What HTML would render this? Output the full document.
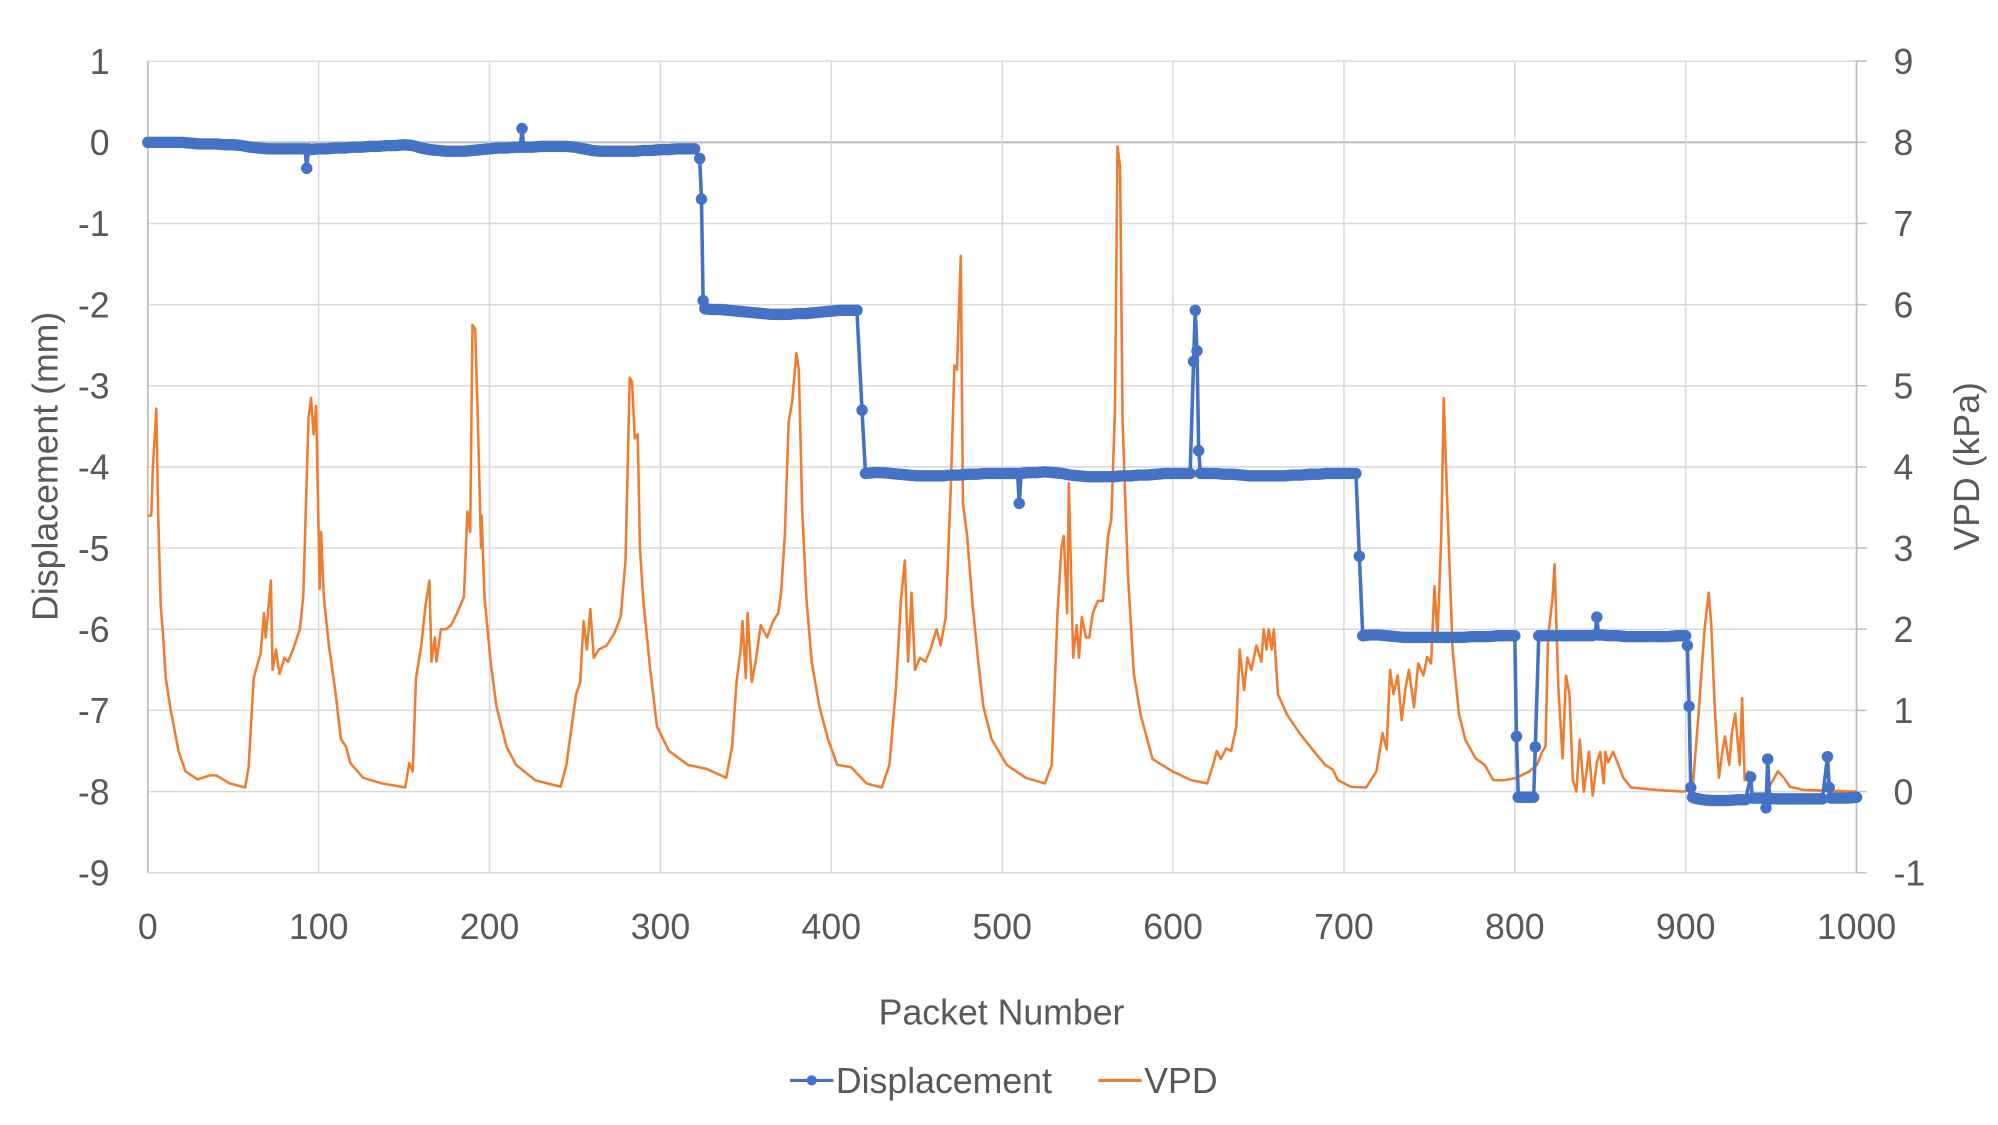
<!DOCTYPE html>
<html><head><meta charset="utf-8"><style>
html,body{margin:0;padding:0;background:#fff;}
svg{display:block;font-family:"Liberation Sans",sans-serif;}
</style></head><body>
<svg id="chart" width="1998" height="1125" viewBox="0 0 1568 883" preserveAspectRatio="none" xmlns="http://www.w3.org/2000/svg">
<g id="grid"></g>
<g id="axes"></g>
<g id="vpd"></g>
<g id="disp"></g>
<text x="786" y="804" font-size="28" fill="#595959" text-anchor="middle">Packet Number</text>
<text transform="translate(45,366) rotate(-90)" font-size="28" fill="#595959" text-anchor="middle">Displacement (mm)</text>
<text transform="translate(1553,366) rotate(-90)" font-size="28" fill="#595959" text-anchor="middle">VPD (kPa)</text>
<g>
  <g>
    <line x1="620" y1="848" x2="654" y2="848" stroke="#4472c4" stroke-width="2.5"/>
    <circle cx="637" cy="848" r="4" fill="#4472c4"/>
    <text x="656" y="858" font-size="28" fill="#595959">Displacement</text>
  </g>
  <g>
    <line x1="862" y1="848" x2="896" y2="848" stroke="#ed7d31" stroke-width="2.5"/>
    <text x="898" y="858" font-size="28" fill="#595959">VPD</text>
  </g>
</g>
</svg>
<script>
const xTicks=[0,100,200,300,400,500,600,700,800,900,1000];
const leftTicks=[1,0,-1,-2,-3,-4,-5,-6,-7,-8,-9];
const rightTicks=[9,8,7,6,5,4,3,2,1,0,-1];
const dispPackets=[0,5,10,15,20,25,30,35,40,45,50,55,60,65,70,75,80,85,90,92,93,94,95,100,105,110,115,120,125,130,135,140,145,150,155,160,165,170,175,180,185,190,195,200,205,210,215,218,219,220,225,230,235,240,245,250,255,260,265,270,275,280,285,290,295,300,305,310,315,320,323,324,325,326,330,335,340,345,350,355,360,365,370,375,380,385,390,395,400,405,410,415,418,420,425,430,435,440,445,450,455,460,465,470,475,480,485,490,495,500,505,509,510,511,515,520,525,530,535,540,545,550,555,560,565,570,575,580,585,590,595,600,605,610,612,613,614,615,616,620,625,630,635,640,645,650,655,660,665,670,675,680,685,690,695,700,705,707,709,711,715,720,725,730,735,740,745,750,755,760,765,770,775,780,785,790,795,800,801,802,805,808,811,812,814,815,820,825,830,835,840,845,847,848,849,850,855,860,865,870,875,880,885,890,895,900,901,902,903,904,905,910,915,920,925,930,935,938,939,940,945,947,948,949,950,955,960,965,970,975,980,983,984,985,990,995,1000];
const dispValues=[0,0,0,0,0,-0.01,-0.02,-0.02,-0.02,-0.03,-0.03,-0.04,-0.06,-0.07,-0.08,-0.08,-0.08,-0.08,-0.08,-0.08,-0.32,-0.08,-0.09,-0.08,-0.08,-0.07,-0.07,-0.06,-0.06,-0.05,-0.05,-0.04,-0.04,-0.03,-0.04,-0.07,-0.09,-0.1,-0.11,-0.11,-0.11,-0.1,-0.09,-0.08,-0.07,-0.07,-0.06,-0.06,0.17,-0.06,-0.06,-0.05,-0.05,-0.05,-0.05,-0.06,-0.08,-0.1,-0.11,-0.11,-0.11,-0.11,-0.11,-0.1,-0.1,-0.09,-0.09,-0.08,-0.08,-0.08,-0.2,-0.7,-1.95,-2.05,-2.06,-2.06,-2.07,-2.08,-2.09,-2.1,-2.11,-2.12,-2.12,-2.12,-2.11,-2.11,-2.1,-2.09,-2.08,-2.07,-2.07,-2.07,-3.3,-4.08,-4.07,-4.07,-4.08,-4.09,-4.1,-4.11,-4.11,-4.11,-4.11,-4.1,-4.1,-4.09,-4.09,-4.08,-4.08,-4.08,-4.08,-4.08,-4.45,-4.08,-4.07,-4.07,-4.06,-4.07,-4.08,-4.1,-4.11,-4.12,-4.12,-4.12,-4.12,-4.11,-4.11,-4.1,-4.1,-4.09,-4.08,-4.08,-4.08,-4.08,-2.7,-2.07,-2.57,-3.8,-4.08,-4.08,-4.08,-4.09,-4.09,-4.1,-4.11,-4.11,-4.11,-4.11,-4.11,-4.1,-4.1,-4.09,-4.09,-4.08,-4.08,-4.08,-4.08,-4.08,-5.1,-6.08,-6.07,-6.07,-6.08,-6.09,-6.1,-6.1,-6.1,-6.1,-6.1,-6.1,-6.1,-6.1,-6.09,-6.09,-6.09,-6.08,-6.08,-6.08,-7.32,-8.07,-8.07,-8.07,-8.07,-7.45,-6.08,-6.08,-6.08,-6.08,-6.08,-6.08,-6.08,-6.08,-6.07,-5.85,-6.07,-6.07,-6.08,-6.08,-6.09,-6.09,-6.09,-6.09,-6.09,-6.09,-6.08,-6.08,-6.2,-6.95,-7.95,-8.07,-8.08,-8.1,-8.11,-8.11,-8.11,-8.1,-8.1,-7.82,-8.08,-8.08,-8.08,-8.2,-7.6,-8.08,-8.09,-8.09,-8.09,-8.09,-8.09,-8.09,-8.09,-7.57,-7.95,-8.08,-8.08,-8.08,-8.07];
const vpdPackets=[0,2,3,5,6,7.5,9,10.5,13.4,18,22,29,36.5,40,48,57,59,62,66,68,69,72,73,75,77,80,82,85,89,91,94,95.5,97,98.5,100.6,101.4,103,106,110,113,116,118.6,126,137,150.6,153,155,157,160,162.6,164.8,166,168,169,171.5,174.5,177.5,181,185,187,188.7,190,191.6,193,195,195.4,197,200.6,204,210,215.5,226.7,241.6,245,250.6,253,255,257,259,261,264,268.5,273,276.7,279.6,282,283.4,285,286.7,288,290,294,298,305,316,327,338.5,342,344.5,347,348,350,351,353.5,355.7,358.7,362.4,366,369,370.6,372.8,375,377,379.6,381,383,385.5,388.5,393,398,403.4,411.6,420.6,429.5,434,437.7,440.7,443,445,447,449,452,455,458,461.6,464,467,470,472,473.5,475.8,477,479.5,482.5,486,489,493.7,502.6,513.8,525,529,532.4,534.7,536,538,539,541.5,543.6,545,546.6,549,551,553,556,559,562,563.8,566,567.5,569,570.5,573.5,577,581,588,599.6,610.7,620,623.4,625.6,628,631,634,637,639,641.6,643.5,645.8,648.8,651.7,653,654.7,656,657.7,659,661.4,666.7,674,681.6,689,693.5,696.5,704,713,719,722.6,725,727,729,731.5,733.8,736,738,741,743.5,746.5,748.7,751,753,754.7,757,758.4,760.6,763.6,767.3,771,777,782.3,787.5,793.5,801,808.6,813,816,818,819.5,822,823.3,825.5,828,830,832,834,836,838,840.4,843.4,845.6,848,850,852,853,854.6,857.6,860.6,863.5,868,883,898,904,907.5,911,913.5,915,917,919.5,921.5,923,925.5,927,929,931.6,933,934.5,936.6,939,946,950,954,957.5,961,968.6,1000];
const vpdValues=[3.4,3.4,4.0,4.72,3.5,2.3,1.9,1.4,1.0,0.5,0.25,0.15,0.2,0.2,0.1,0.05,0.3,1.4,1.7,2.2,1.9,2.6,1.5,1.75,1.45,1.65,1.6,1.75,2.0,2.4,4.6,4.85,4.4,4.75,2.5,3.2,2.4,1.8,1.2,0.65,0.55,0.35,0.17,0.1,0.05,0.35,0.25,1.4,1.8,2.3,2.6,1.6,1.9,1.6,2.0,2.0,2.05,2.2,2.4,3.45,3.2,5.75,5.7,4.7,3.0,3.4,2.4,1.6,1.05,0.55,0.33,0.14,0.06,0.33,1.2,1.35,2.1,1.75,2.25,1.65,1.75,1.8,1.95,2.15,2.85,5.1,5.05,4.35,4.4,3.0,2.35,1.5,0.8,0.5,0.33,0.28,0.17,0.56,1.35,1.75,2.1,1.4,2.2,1.35,1.6,2.05,1.9,2.1,2.2,2.45,3.15,4.55,4.8,5.4,5.2,3.45,2.35,1.6,1.05,0.65,0.33,0.3,0.1,0.05,0.33,1.25,2.35,2.85,1.6,2.45,1.5,1.65,1.6,1.75,2.0,1.8,2.15,3.8,5.25,5.2,6.6,3.55,3.15,2.35,1.6,1.05,0.65,0.33,0.17,0.1,0.33,2.2,3.0,3.15,2.2,3.8,1.65,2.05,1.65,2.15,1.9,1.9,2.2,2.35,2.35,3.15,3.35,4.7,7.95,7.7,4.55,2.7,1.45,0.95,0.4,0.25,0.14,0.1,0.33,0.5,0.4,0.53,0.5,0.8,1.75,1.25,1.65,1.5,1.8,1.6,2.0,1.75,2.0,1.75,2.0,1.2,0.95,0.72,0.52,0.33,0.27,0.14,0.06,0.05,0.25,0.72,0.52,1.5,1.2,1.43,0.88,1.27,1.5,1.04,1.58,1.43,1.66,1.58,2.53,1.9,3.15,4.85,3.47,1.74,0.96,0.64,0.41,0.33,0.14,0.14,0.17,0.25,0.33,0.49,0.56,1.9,2.37,2.8,1.27,0.41,1.43,1.2,0.14,0.0,0.64,0.0,0.49,-0.05,0.36,0.49,0.1,0.49,0.36,0.49,0.33,0.17,0.05,0.02,0.0,0.02,0.96,2.0,2.45,2.05,1.04,0.17,0.49,0.68,0.33,0.72,0.96,0.33,1.15,0.14,0.25,-0.05,-0.05,0.1,0.25,0.17,0.06,0.02,0.0];

const NS="http://www.w3.org/2000/svg";
const X0=116,X1=1457,YT=48,YB=685;
function xs(p){return X0+(p-0)/(1000-0)*(X1-X0);}
function yl(v){return YT+(1-v)/(1-(-9))*(YB-YT);}
function yr(v){return YT+(9-v)/(9-(-1))*(YB-YT);}
function mk(tag,attrs,parent){const e=document.createElementNS(NS,tag);for(const k in attrs)e.setAttribute(k,attrs[k]);parent.appendChild(e);return e;}
const grid=document.getElementById('grid'),axes=document.getElementById('axes');
leftTicks.forEach(v=>{
  const l=mk('line',{x1:X0,x2:X1,y1:yl(v),y2:yl(v),stroke:v===0?'#bfbfbf':'#d9d9d9','stroke-width':v===0?1.6:1.2},grid);
  
  
  const t=mk('text',{x:86,y:yl(v)+10,'font-size':28,fill:'#595959','text-anchor':'end'},axes);
  t.textContent=String(v);
  
  
});
rightTicks.forEach(v=>{
  const t=mk('text',{x:1486,y:yr(v)+10,'font-size':28,fill:'#595959','text-anchor':'start'},axes);
  t.textContent=String(v);
  
  
  const k=mk('line',{x1:X1,x2:X1+8,y1:yr(v),y2:yr(v),stroke:'#bfbfbf','stroke-width':1.2},axes);
  
  
});
xTicks.forEach(p=>{
  const l=mk('line',{x1:xs(p),x2:xs(p),y1:YT,y2:YB,stroke:'#d9d9d9','stroke-width':1.2},grid);
  
  
  const t=mk('text',{x:xs(p),y:737,'font-size':28,fill:'#595959','text-anchor':'middle'},axes);
  t.textContent=String(p);
  
  
});
const la=mk('line',{x1:X0,x2:X0,y1:YT,y2:YB,stroke:'#bfbfbf','stroke-width':1.4},axes);


const ra=mk('line',{x1:X1,x2:X1,y1:YT,y2:YB,stroke:'#bfbfbf','stroke-width':1.4},axes);



const vg=document.getElementById('vpd');
const vp=mk('polyline',{points:vpdPackets.map((p,i)=>xs(p).toFixed(1)+','+yr(vpdValues[i]).toFixed(1)).join(' '),fill:'none',stroke:'#ed7d31','stroke-width':2,'stroke-linejoin':'round'},vg);



const dg=document.getElementById('disp');
const dp=mk('polyline',{points:dispPackets.map((p,i)=>xs(p).toFixed(1)+','+yl(dispValues[i]).toFixed(1)).join(' '),fill:'none',stroke:'#4472c4','stroke-width':2.8,'stroke-linejoin':'round'},dg);


for(let i=0;i<dispPackets.length;i++){
  const seg=i<dispPackets.length-1?dispPackets[i+1]-dispPackets[i]:0;
  const steps=Math.max(1,Math.round(seg/1.5));
  for(let s=0;s<(i<dispPackets.length-1?steps:1);s++){
    const f=s/steps;
    const a=dispValues[i],b=i<dispPackets.length-1?dispValues[i+1]:a;
    if(s>0 && Math.abs(b-a)>0.05) break;
    const c=mk('circle',{cx:xs(dispPackets[i]+f*seg),cy:yl(a+(b-a)*f),r:4.5,fill:'#4472c4'},dg);
    
    
  }
}
</script>
</body></html>
